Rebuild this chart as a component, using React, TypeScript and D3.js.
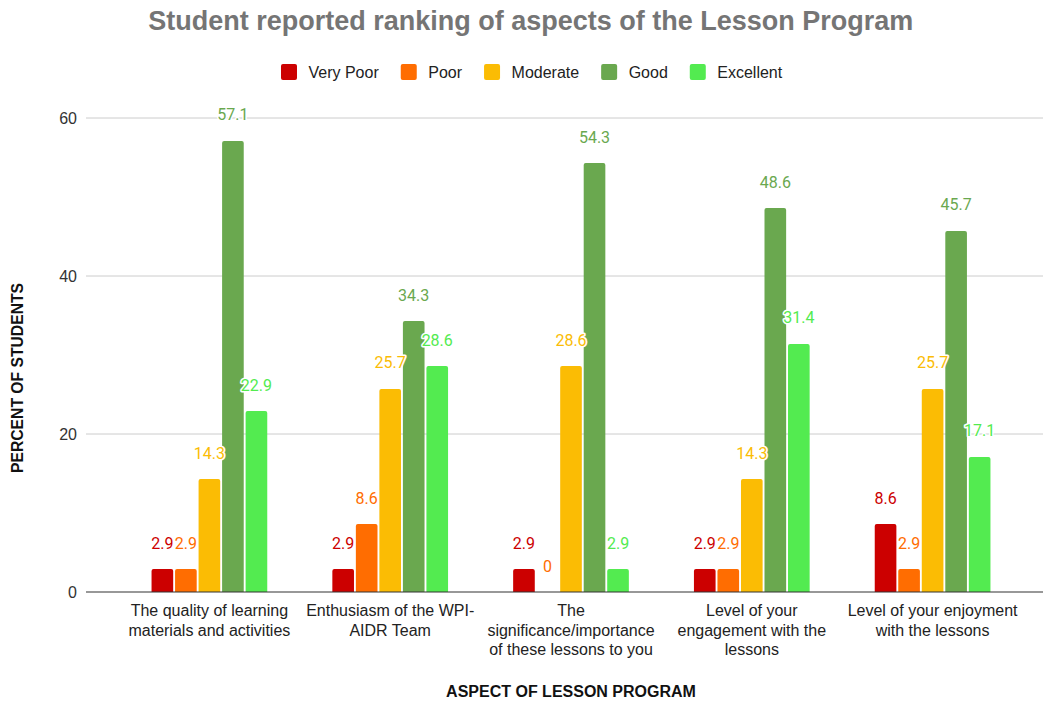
import React from "react";
import * as d3 from "d3";

const categories: string[][] = [
  ["The quality of learning", "materials and activities"],
  ["Enthusiasm of the WPI-", "AIDR Team"],
  ["The", "significance/importance", "of these lessons to you"],
  ["Level of your", "engagement with the", "lessons"],
  ["Level of your enjoyment", "with the lessons"],
];
const seriesNames = ["Very Poor", "Poor", "Moderate", "Good", "Excellent"];
const seriesColors = ["#cc0000", "#ff6d01", "#fbbc04", "#6aa84f", "#53eb50"];
const veryPoor = [2.9, 2.9, 2.9, 2.9, 8.6];
const poor = [2.9, 8.6, 0, 2.9, 2.9];
const moderate = [14.3, 25.7, 28.6, 14.3, 25.7];
const good = [57.1, 34.3, 54.3, 48.6, 45.7];
const excellent = [22.9, 28.6, 2.9, 31.4, 17.1];
const yTicks = [0, 20, 40, 60];
const title = "Student reported ranking of aspects of the Lesson Program";
const yTitle = "PERCENT OF STUDENTS";
const xTitle = "ASPECT OF LESSON PROGRAM";

const seriesValues = [veryPoor, poor, moderate, good, excellent];

const W = 1043;
const H = 703;
const FONT = "Arial, 'Liberation Sans', sans-serif";
const LABEL_FONT = "Roboto, Arial, sans-serif";

function measure(text: string, font: string): number {
  const c = document.createElement("canvas");
  const ctx = c.getContext("2d");
  if (!ctx) return text.length * 8;
  ctx.font = font;
  return ctx.measureText(text).width;
}

function topRoundedBar(x: number, y: number, w: number, h: number, r: number): string {
  if (h <= 0) return "";
  const rr = Math.min(r, h, w / 2);
  return `M${x},${y + h}V${y + rr}Q${x},${y} ${x + rr},${y}H${x + w - rr}Q${x + w},${y} ${x + w},${y + rr}V${y + h}Z`;
}

export default function App() {
  const gridLeft = 86;
  const gridRight = 1043;
  const y = d3.scaleLinear().domain([0, 60]).range([592, 118]);
  const x0 = d3
    .scaleBand<number>()
    .domain(d3.range(categories.length))
    .range([119, 1023])
    .paddingInner(0.36)
    .paddingOuter(0.18);
  const x1 = d3
    .scaleBand<number>()
    .domain(d3.range(seriesNames.length))
    .range([0, x0.bandwidth()])
    .paddingInner(0.08);

  // Legend layout
  const legendFont = `16px ${FONT}`;
  const sq = 16;
  const gapText = 11.5;
  const gapItem = 22;
  const widths = seriesNames.map((s) => measure(s, legendFont));
  const total =
    widths.reduce((a, b) => a + b, 0) + seriesNames.length * (sq + gapText) + (seriesNames.length - 1) * gapItem;
  let lx = 531.6 - total / 2;
  const legendItems = seriesNames.map((s, i) => {
    const item = { x: lx, name: s, color: seriesColors[i] };
    lx += sq + gapText + widths[i] + gapItem;
    return item;
  });
  const legendY = 72;

  const plotCenter = (x0.range()[0] + x0.range()[1]) / 2;

  return (
    <svg
      width={W}
      height={H}
      style={{ position: "absolute", left: 0, top: 0, background: "#fff" }}
      fontFamily={FONT}
    >
      <rect width={W} height={H} fill="#fff" />
      <text x={530.8} y={30} textAnchor="middle" fontSize={27} fontWeight="bold" fill="#757575">
        {title}
      </text>

      {legendItems.map((it) => (
        <g key={it.name}>
          <rect x={it.x} y={legendY - sq / 2} width={sq} height={sq} rx={2} fill={it.color} />
          <text x={it.x + sq + gapText} y={legendY + 5.5} fontSize={16} fill="#222">
            {it.name}
          </text>
        </g>
      ))}

      {yTicks.map((t) => (
        <g key={t}>
          {t !== 0 && (
            <line x1={gridLeft} x2={gridRight} y1={y(t)} y2={y(t)} stroke="#cccccc" strokeWidth={1} />
          )}
          <text x={77} y={y(t) + 5.5} textAnchor="end" fontSize={16} fill="#333">
            {t}
          </text>
        </g>
      ))}

      {seriesValues.map((vals, si) =>
        vals.map((v, ci) => {
          const bx = (x0(ci) as number) + (x1(si) as number);
          const by = y(v);
          return (
            <path
              key={`b${si}-${ci}`}
              d={topRoundedBar(bx, by, x1.bandwidth(), y(0) - by, 2)}
              fill={seriesColors[si]}
            />
          );
        })
      )}

      <line x1={gridLeft} x2={gridRight} y1={y(0)} y2={y(0)} stroke="#333" strokeWidth={1.2} />

      {seriesValues.map((vals, si) =>
        vals.map((v, ci) => {
          const cx = (x0(ci) as number) + (x1(si) as number) + x1.bandwidth() / 2;
          return (
            <text
              key={`l${si}-${ci}`}
              x={cx}
              y={y(v) - 20.5}
              textAnchor="middle"
              fontSize={16}
              fontFamily={LABEL_FONT}
              fill={seriesColors[si]}
              stroke="#fff"
              strokeWidth={3}
              strokeLinejoin="round"
              paintOrder="stroke"
            >
              {v === 0 ? "0" : v.toFixed(1)}
            </text>
          );
        })
      )}

      {categories.map((lines, ci) => {
        const cx = (x0(ci) as number) + x0.bandwidth() / 2;
        return (
          <text key={`c${ci}`} textAnchor="middle" fontSize={16} fill="#222">
            {lines.map((ln, li) => (
              <tspan key={li} x={cx} y={616 + li * 19.5}>
                {ln}
              </tspan>
            ))}
          </text>
        );
      })}

      <text x={plotCenter} y={697} textAnchor="middle" fontSize={16} fontWeight="bold" fill="#111">
        {xTitle}
      </text>
      <text
        transform={`translate(23.3,378) rotate(-90)`}
        textAnchor="middle"
        fontSize={15.7}
        fontWeight="bold"
        fill="#111"
      >
        {yTitle}
      </text>
    </svg>
  );
}
